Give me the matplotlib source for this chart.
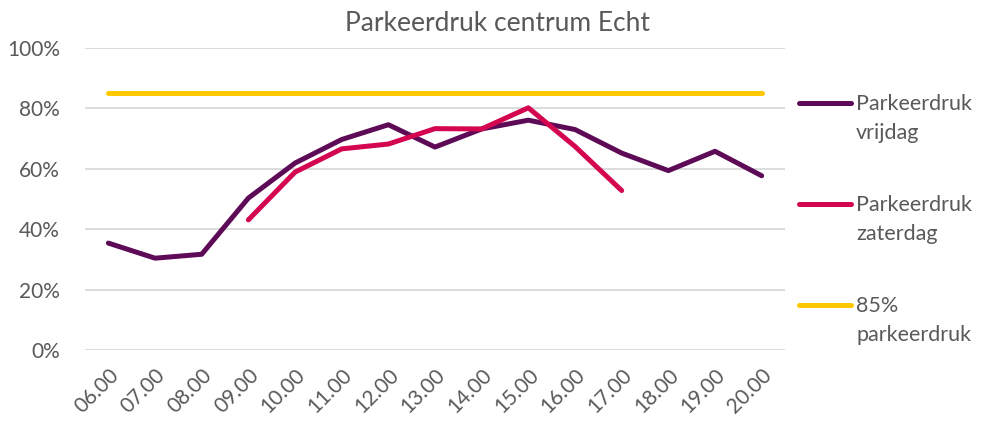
import matplotlib.pyplot as plt
import numpy as np
from matplotlib.lines import Line2D

hours = ['06.00', '07.00', '08.00', '09.00', '10.00', '11.00', '12.00', '13.00',
         '14.00', '15.00', '16.00', '17.00', '18.00', '19.00', '20.00']
vrijdag = [35.4, 30.4, 31.7, 50.3, 61.9, 69.7, 74.6, 67.2, 73.2, 76.1, 73.0, 65.2, 59.4, 65.8, 57.7]
zaterdag = [np.nan, np.nan, np.nan, 43.1, 58.9, 66.6, 68.2, 73.3, 73.2, 80.2, 67.4, 52.8,
            np.nan, np.nan, np.nan]
norm = [85] * len(hours)

labels = ['Parkeerdruk\nvrijdag', 'Parkeerdruk\nzaterdag', '85%\nparkeerdruk']
colors = ['#5E0B57', '#D3064F', '#FFC800']

plt.rcParams['font.family'] = ['Lato', 'DejaVu Sans']
grey = '#595959'

fig = plt.figure(figsize=(9.82, 4.23), dpi=100)
ax = fig.add_axes([0.0866, 0.1726, 0.7128, 0.7139])

x = np.arange(len(hours))
ax.plot(x, vrijdag, color=colors[0], lw=3.6, solid_capstyle='round', solid_joinstyle='round', zorder=3)
ax.plot(x, zaterdag, color=colors[1], lw=3.6, solid_capstyle='round', solid_joinstyle='round', zorder=4)
ax.plot(x, norm, color=colors[2], lw=3.6, solid_capstyle='round', zorder=2)

ax.set_xlim(-0.5, len(hours) - 0.5)
ax.set_ylim(0, 100)
ax.set_yticks(np.arange(0, 101, 20))
ax.set_yticklabels([f'{v}%' for v in range(0, 101, 20)])
ax.set_xticks(x)
ax.set_xticklabels(hours, rotation=45, ha='right', rotation_mode='anchor')
ax.tick_params(length=0, labelsize=15, colors=grey)
ax.tick_params(axis='y', pad=18)
ax.tick_params(axis='x', pad=11)
ax.grid(axis='y', color='#D9D9D9', lw=1.3)
ax.set_axisbelow(True)
for s in ax.spines.values():
    s.set_visible(False)

fig.text(0.507, 0.945, 'Parkeerdruk centrum Echt', ha='center', va='center',
         fontsize=19, color=grey)

# legend drawn by hand: handle level with the first line of each label
W, H = 982, 423
for i, (lab, c) in enumerate(zip(labels, colors)):
    yy = 1 - (103 + 101 * i) / H
    fig.add_artist(Line2D([799 / W, 851 / W], [yy, yy], transform=fig.transFigure,
                          color=c, lw=3.6, solid_capstyle='round'))
    fig.text(856 / W, yy + 9 / H, lab, ha='left', va='top', fontsize=15.5,
             color=grey, linespacing=1.55)

fig.savefig('out.png', dpi=100)
